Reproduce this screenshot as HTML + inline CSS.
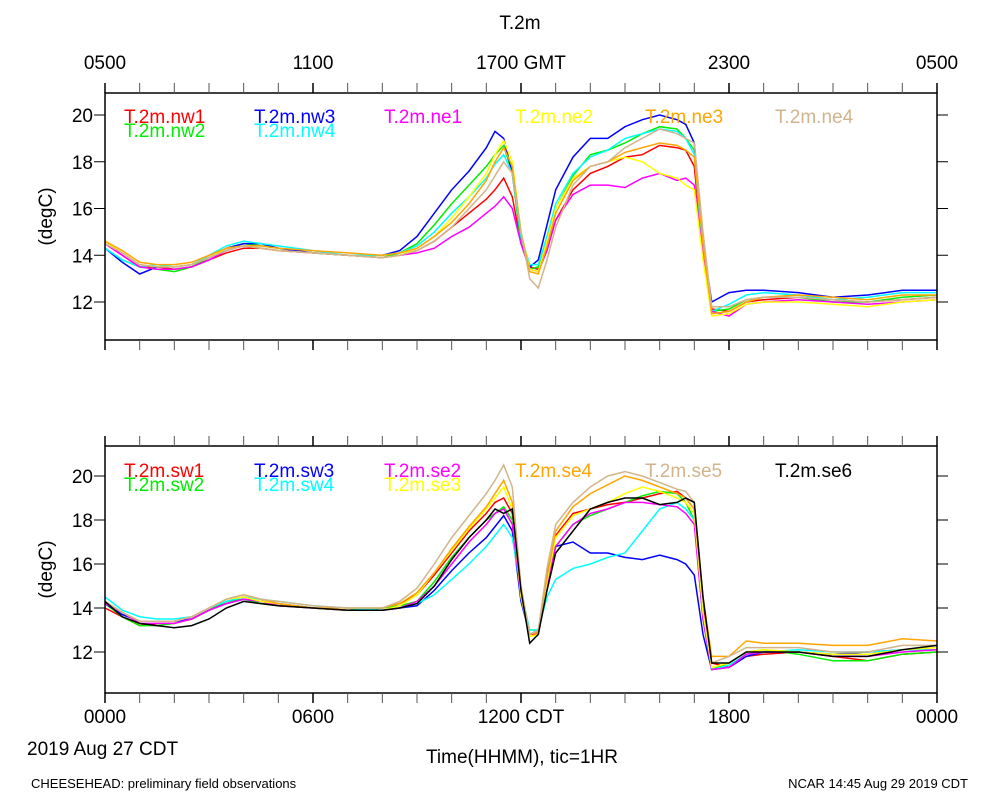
<!DOCTYPE html>
<html><head><meta charset="utf-8"><style>
body{margin:0;background:#fff}
svg{display:block;font-family:"Liberation Sans",sans-serif}
</style></head><body>
<svg id="c" width="1000" height="800" xmlns="http://www.w3.org/2000/svg">
<text x="520" y="29" font-size="19" text-anchor="middle">T.2m</text>
<text x="105" y="69" font-size="19" text-anchor="middle">0500</text>
<text x="313" y="69" font-size="19" text-anchor="middle">1100</text>
<text x="521" y="69" font-size="19" text-anchor="middle">1700 GMT</text>
<text x="729" y="69" font-size="19" text-anchor="middle">2300</text>
<text x="937" y="69" font-size="19" text-anchor="middle">0500</text>
<text x="105" y="723" font-size="19" text-anchor="middle">0000</text>
<text x="313" y="723" font-size="19" text-anchor="middle">0600</text>
<text x="521" y="723" font-size="19" text-anchor="middle">1200 CDT</text>
<text x="729" y="723" font-size="19" text-anchor="middle">1800</text>
<text x="937" y="723" font-size="19" text-anchor="middle">0000</text>
<text x="27" y="755" font-size="19">2019 Aug 27 CDT</text>
<text x="522" y="763" font-size="19" text-anchor="middle">Time(HHMM), tic=1HR</text>
<text x="31" y="788" font-size="13">CHEESEHEAD: preliminary field observations</text>
<text x="968" y="788" font-size="13" text-anchor="end">NCAR 14:45 Aug 29 2019 CDT</text>
</svg>
<script>
const T=[0,0.5,1,1.5,2,2.5,3,3.5,4,4.5,5,6,7,8,8.5,9,9.5,10,10.5,11,11.25,11.5,11.75,12,12.25,12.5,12.75,13,13.5,14,14.5,15,15.5,16,16.5,16.75,17,17.25,17.5,18,18.5,19,20,21,22,23,24];
const topNames=["T.2m.nw1","T.2m.nw2","T.2m.nw3","T.2m.nw4","T.2m.ne1","T.2m.ne2","T.2m.ne3","T.2m.ne4"];
const nw1=[14.5,14.0,13.5,13.5,13.4,13.5,13.8,14.1,14.3,14.3,14.2,14.1,14.0,13.9,14.0,14.2,14.6,15.2,15.8,16.4,16.8,17.3,16.5,14.5,13.5,13.4,14.3,15.5,16.8,17.5,17.8,18.2,18.3,18.7,18.6,18.5,17.8,14.0,11.7,11.6,12.0,12.1,12.2,12.1,12.0,12.1,12.2];
const nw2=[14.3,13.8,13.5,13.4,13.3,13.5,13.9,14.3,14.5,14.4,14.3,14.1,14.0,13.9,14.1,14.5,15.3,16.2,17.0,17.8,18.3,18.7,17.5,14.5,13.4,13.5,14.8,16.0,17.4,18.3,18.5,18.8,19.2,19.5,19.4,19.0,18.5,14.2,11.6,11.7,12.1,12.2,12.2,12.0,12.0,12.2,12.3];
const nw3=[14.3,13.7,13.2,13.5,13.5,13.6,13.9,14.3,14.5,14.5,14.3,14.1,14.0,14.0,14.2,14.8,15.8,16.8,17.6,18.6,19.3,19.0,17.5,14.8,13.5,13.8,15.3,16.8,18.2,19.0,19.0,19.5,19.8,20.0,19.8,19.6,18.8,14.5,12.0,12.4,12.5,12.5,12.4,12.2,12.3,12.5,12.5];
const nw4=[14.3,13.8,13.5,13.6,13.5,13.6,14.0,14.4,14.6,14.5,14.4,14.2,14.0,14.0,14.1,14.4,15.0,15.8,16.5,17.3,17.9,18.3,17.5,14.8,13.6,13.6,14.8,16.2,17.5,18.2,18.5,19.0,19.2,19.4,19.3,19.0,18.3,14.0,11.6,11.9,12.3,12.4,12.3,12.1,12.2,12.4,12.4];
const ne1=[14.5,14.0,13.5,13.4,13.4,13.5,13.8,14.2,14.4,14.3,14.2,14.1,14.0,13.9,14.0,14.1,14.3,14.8,15.2,15.8,16.1,16.5,16.0,14.5,13.4,13.3,14.2,15.5,16.6,17.0,17.0,16.9,17.3,17.5,17.2,17.3,17.0,14.0,11.6,11.4,11.9,12.0,12.1,12.0,11.9,12.0,12.1];
const ne2=[14.6,14.1,13.6,13.5,13.5,13.6,13.9,14.3,14.4,14.3,14.2,14.1,14.0,13.9,14.0,14.3,14.8,15.6,16.5,17.5,18.3,18.9,18.0,15.0,13.4,13.3,14.6,16.0,17.3,17.8,18.0,18.2,18.0,17.5,17.3,17.0,16.8,13.8,11.4,11.5,11.9,12.0,12.0,11.9,11.8,12.0,12.1];
const ne3=[14.6,14.2,13.7,13.6,13.6,13.7,14.0,14.3,14.4,14.4,14.3,14.2,14.1,14.0,14.1,14.3,14.8,15.4,16.2,17.2,18.0,18.6,17.8,15.0,13.3,13.2,14.4,15.8,17.2,17.8,18.0,18.4,18.6,18.8,18.7,18.5,18.2,14.5,11.5,11.6,12.0,12.2,12.3,12.2,12.1,12.3,12.3];
const ne4=[14.5,14.1,13.6,13.5,13.5,13.6,13.9,14.2,14.4,14.3,14.2,14.1,14.0,13.9,14.0,14.2,14.6,15.2,16.0,16.8,17.4,18.0,17.5,15.0,13.0,12.6,13.8,15.2,17.0,17.8,18.0,18.6,19.0,19.4,19.2,19.0,18.8,15.0,11.8,11.8,12.1,12.2,12.2,12.1,12.0,12.1,12.2];
const botNames=["T.2m.sw1","T.2m.sw2","T.2m.sw3","T.2m.sw4","T.2m.se2","T.2m.se3","T.2m.se4","T.2m.se5","T.2m.se6"];
const sw1=[14.0,13.6,13.2,13.3,13.3,13.5,13.9,14.2,14.4,14.3,14.2,14.0,13.9,14.0,14.2,14.6,15.5,16.5,17.5,18.3,18.8,19.0,18.3,14.5,12.8,12.8,15.5,17.3,18.3,18.5,18.7,18.8,19.0,19.2,19.3,19.0,18.5,14.0,11.5,11.3,11.8,11.9,12.0,11.8,11.6,11.9,12.0];
const sw2=[14.2,13.6,13.2,13.2,13.3,13.5,13.9,14.3,14.4,14.2,14.1,14.0,13.9,14.0,14.1,14.3,15.2,16.3,17.2,18.0,18.3,18.6,18.0,14.5,13.0,13.0,15.0,16.8,17.8,18.2,18.5,18.8,19.1,19.3,19.2,18.8,18.0,13.5,11.2,11.5,12.0,12.1,11.9,11.6,11.6,11.9,12.0];
const sw3=[14.2,13.7,13.4,13.4,13.4,13.5,13.9,14.2,14.4,14.3,14.2,14.0,13.9,13.9,14.0,14.1,14.8,15.7,16.5,17.2,17.7,18.2,17.5,14.3,12.8,13.0,15.0,16.8,17.0,16.5,16.5,16.3,16.2,16.4,16.2,16.0,15.5,12.8,11.2,11.3,11.8,12.0,12.0,11.9,12.0,12.1,12.1];
const sw4=[14.5,13.9,13.6,13.5,13.5,13.6,14.0,14.3,14.5,14.4,14.3,14.1,14.0,13.9,14.0,14.2,14.6,15.3,16.0,16.8,17.3,17.8,17.2,14.8,13.0,13.0,14.5,15.3,15.8,16.0,16.3,16.5,17.5,18.5,18.8,18.5,18.0,13.5,11.2,11.4,11.9,12.0,12.1,12.0,12.0,12.1,12.1];
const se2=[14.2,13.8,13.3,13.3,13.3,13.5,13.9,14.2,14.4,14.3,14.1,14.0,13.9,13.9,14.0,14.3,15.0,16.0,17.0,17.8,18.3,18.5,17.8,14.5,12.8,12.9,15.0,16.8,17.8,18.3,18.5,18.8,18.8,18.7,18.6,18.3,17.8,13.5,11.2,11.3,11.9,12.0,12.0,11.8,11.8,12.0,12.1];
const se3=[14.3,13.8,13.4,13.4,13.4,13.6,14.0,14.4,14.5,14.3,14.2,14.0,13.9,13.9,14.1,14.6,15.6,16.6,17.6,18.5,19.0,19.5,18.5,14.5,12.7,12.8,15.2,17.2,18.2,18.5,18.8,19.2,19.5,19.3,19.0,18.8,18.3,13.8,11.3,11.5,12.0,12.1,12.0,11.9,11.9,12.1,12.2];
const se4=[14.3,13.8,13.4,13.4,13.4,13.6,14.0,14.4,14.6,14.4,14.2,14.0,14.0,14.0,14.2,14.7,15.6,16.7,17.7,18.6,19.2,19.8,18.8,14.8,12.8,12.9,15.4,17.5,18.6,19.2,19.6,20.0,19.8,19.5,19.2,19.0,18.5,14.5,11.8,11.8,12.5,12.4,12.4,12.3,12.3,12.6,12.5];
const se5=[14.3,13.8,13.4,13.4,13.4,13.6,14.0,14.4,14.6,14.4,14.3,14.1,14.0,14.0,14.3,14.9,16.0,17.2,18.2,19.2,19.8,20.5,19.5,15.0,12.8,13.0,15.8,17.8,18.8,19.5,20.0,20.2,20.0,19.7,19.4,19.3,18.8,14.5,11.5,11.8,12.2,12.2,12.2,12.0,12.0,12.3,12.3];
const se6=[14.3,13.6,13.3,13.2,13.1,13.2,13.5,14.0,14.3,14.2,14.1,14.0,13.9,13.9,14.0,14.2,15.0,16.2,17.2,18.0,18.5,18.3,18.5,14.8,12.4,12.8,14.8,16.5,17.5,18.5,18.8,19.0,19.0,18.7,18.8,19.0,18.8,14.5,11.5,11.5,12.0,12.0,12.0,11.8,11.8,12.1,12.3];
const yTicks=[12,14,16,18,20];

const NS="http://www.w3.org/2000/svg";
const svg=document.getElementById('c');
function mk(tag,attrs,parent){const e=document.createElementNS(NS,tag);for(const k in attrs)e.setAttribute(k,attrs[k]);(parent||svg).appendChild(e);return e;}
const X0=105,X1=937;
const xs=h=>X0+(X1-X0)*h/24;

function panel(top,bot,y20,y12,series,names,colors,legendY,pname){
  const ys=v=>y12+(v-12)*(y20-y12)/8;
  const g=mk('g',{});
  
  
  for(let i=0;i<series.length;i++){
    let d='';
    series[i].forEach((v,j)=>{d+=(j?'L':'M')+xs(T[j]).toFixed(1)+','+ys(v).toFixed(1);});
    const p=mk('path',{d:d,fill:'none',stroke:colors[i],'stroke-width':1.5},g);
    
    
  }
  const box=mk('rect',{x:X0,y:top,width:X1-X0,height:bot-top,fill:'none',stroke:'#000','stroke-width':1.5},g);
  
  
  for(let h=0;h<=24;h++){
    const x=xs(h);
    const w=h%6==0?1.5:1,c=h%6==0?'#000':'#555';
    mk('line',{x1:x,x2:x,y1:top,y2:top-10,stroke:c,'stroke-width':w},g);
    mk('line',{x1:x,x2:x,y1:bot,y2:bot+10,stroke:c,'stroke-width':w},g);
  }
  yTicks.forEach(v=>{
    const y=ys(v);
    mk('line',{x1:X0-11,x2:X0,y1:y,y2:y,stroke:'#000','stroke-width':1},g);
    mk('line',{x1:X1,x2:X1+11,y1:y,y2:y,stroke:'#000','stroke-width':1},g);
    const t=mk('text',{x:X0-12,y:y+7,'font-size':19,'text-anchor':'end'},g);
    t.textContent=v;
    
    
  });
  const yl=mk('text',{x:52,y:(top+bot)/2,'font-size':19,'text-anchor':'middle',transform:'rotate(-90 52 '+((top+bot)/2)+')'},g);
  yl.textContent='(degC)';
  
  
  const cols=[124,254,384,515,645,775];
  const rowPlan=names.length==8?[[0,0],[0,1],[1,0],[1,1],[2,0],[3,0],[4,0],[5,0]]:[[0,0],[0,1],[1,0],[1,1],[2,0],[2,1],[3,0],[4,0],[5,0]];
  names.forEach((n,i)=>{
    const [c,r]=rowPlan[i];
    const t=mk('text',{x:cols[c],y:legendY+r*14,'font-size':19,fill:colors[i]},g);
    t.textContent=n;
    
    
  });
}
panel(93,340,115,302,[nw1,nw2,nw3,nw4,ne1,ne2,ne3,ne4],topNames,
 ['#ff0000','#00ee00','#0000ff','#00ffff','#ff00ff','#ffff00','#ffa500','#d2b48c'],123,'top-panel');
panel(446,693,476,652,[sw1,sw2,sw3,sw4,se2,se3,se4,se5,se6],botNames,
 ['#ff0000','#00ee00','#0000ff','#00ffff','#ff00ff','#ffff00','#ffa500','#d2b48c','#000000'],477,'bottom-panel');
</script>
</body></html>
